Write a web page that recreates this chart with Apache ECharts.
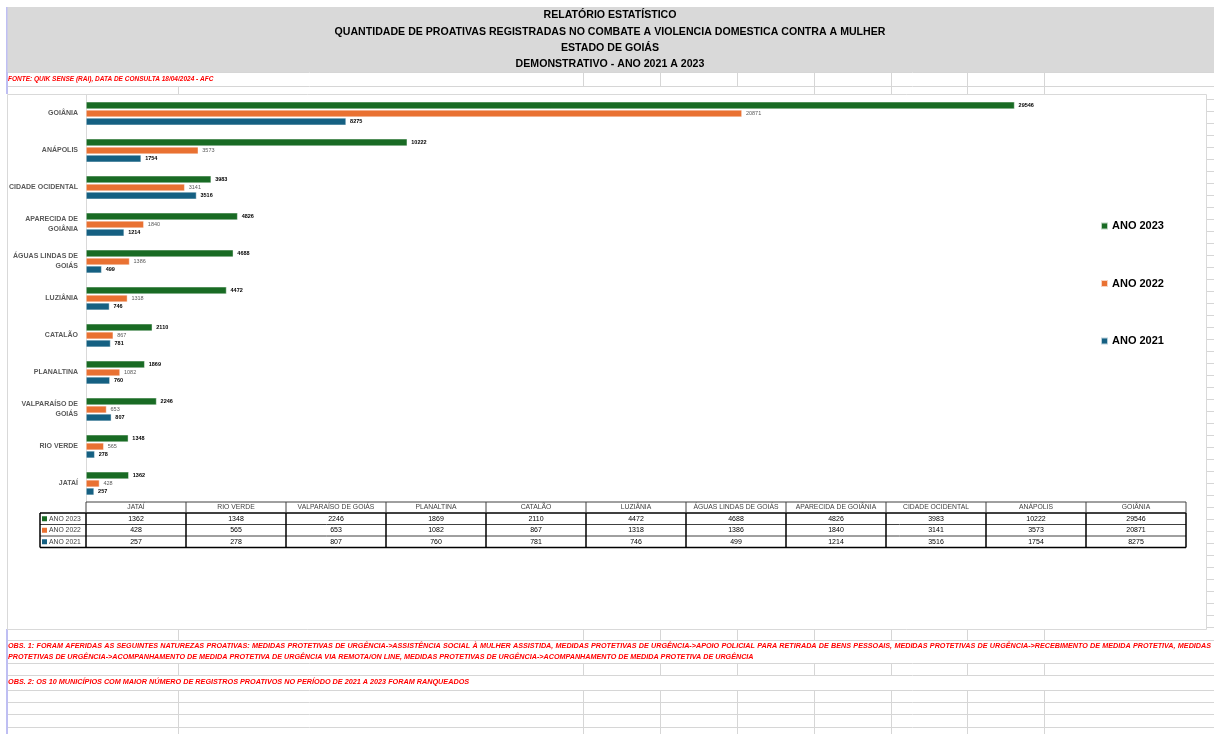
<!DOCTYPE html>
<html>
<head>
<meta charset="utf-8">
<script src="https://cdn.jsdelivr.net/npm/echarts/dist/echarts.min.js"></script>
<style>
  html, body { margin: 0; padding: 0; background: #fff; }
  #main { width: 1214px; height: 734px; }
</style>
</head>
<body>
<div id="main"></div>
<script>
// dados
const cities = ['JATAÍ', 'RIO VERDE', 'VALPARAÍSO DE GOIÁS', 'PLANALTINA', 'CATALÃO', 'LUZIÂNIA',
  'ÁGUAS LINDAS DE GOIÁS', 'APARECIDA DE GOIÂNIA', 'CIDADE OCIDENTAL', 'ANÁPOLIS', 'GOIÂNIA'];
const years = ['ANO 2023', 'ANO 2022', 'ANO 2021'];
const ano2023 = [1362, 1348, 2246, 1869, 2110, 4472, 4688, 4826, 3983, 10222, 29546];
const ano2022 = [428, 565, 653, 1082, 867, 1318, 1386, 1840, 3141, 3573, 20871];
const ano2021 = [257, 278, 807, 760, 781, 746, 499, 1214, 3516, 1754, 8275];

const titleLines = [
  'RELATÓRIO ESTATÍSTICO',
  'QUANTIDADE DE PROATIVAS REGISTRADAS NO COMBATE A VIOLENCIA DOMESTICA CONTRA A MULHER',
  'ESTADO DE GOIÁS',
  'DEMONSTRATIVO - ANO 2021 A 2023'
];
const fonte = 'FONTE: QUIK SENSE (RAI), DATA DE CONSULTA 18/04/2024 - AFC';
const obs1a = 'OBS. 1: FORAM AFERIDAS AS SEGUINTES NATUREZAS PROATIVAS:  MEDIDAS PROTETIVAS DE URGÊNCIA->ASSISTÊNCIA SOCIAL À MULHER ASSISTIDA, MEDIDAS PROTETIVAS DE URGÊNCIA->APOIO POLICIAL PARA RETIRADA DE BENS PESSOAIS, MEDIDAS PROTETIVAS DE URGÊNCIA->RECEBIMENTO DE MEDIDA PROTETIVA, MEDIDAS';
const obs1b = 'PROTETIVAS DE URGÊNCIA->ACOMPANHAMENTO DE MEDIDA PROTETIVA DE URGÊNCIA VIA REMOTA/ON LINE, MEDIDAS PROTETIVAS DE URGÊNCIA->ACOMPANHAMENTO DE MEDIDA PROTETIVA DE URGÊNCIA';
const obs2 = 'OBS. 2: OS 10 MUNICÍPIOS COM MAIOR NÚMERO DE REGISTROS PROATIVOS NO PERÍODO DE 2021 A 2023 FORAM RANQUEADOS';

const colors = ['#196B24', '#E97132', '#156082'];
const FONT = '"Liberation Sans", Arial, sans-serif';

// area do grafico (mesma largura da tabela)
const GL = 86, GW = 1100, GT = 95, GH = 407;
const XMAX = 35000;

const gfx = [];
const gridC = '#d6d6d6';
function line(x1, y1, x2, y2, color, w, z) {
  gfx.push({ type: 'line', z: z || 0, shape: { x1: x1, y1: y1, x2: x2, y2: y2 },
    style: { stroke: color || gridC, lineWidth: w || 1 } });
}
function text(x, y, str, st, z) {
  gfx.push({ type: 'text', z: z || 5, x: x, y: y,
    style: Object.assign({ text: str, fontFamily: FONT, verticalAlign: 'middle' }, st) });
}

// grade da planilha
line(7, 7, 7, 94, '#7f7fe6', 1);
line(7, 629, 7, 734, '#7f7fe6', 1);
gfx.push({ type: 'rect', z: 0, shape: { x: 7.5, y: 7, width: 1207, height: 65 }, style: { fill: '#d9d9d9' } });
titleLines.forEach(function (t, i) {
  text(610, 15.5 + i * 16.3, t, { fontSize: 10.6, fontWeight: 'bold', fill: '#000', align: 'center' });
});
[72.5, 86.5, 640.5, 663.5, 675.5, 690.5, 702.5, 714.5, 727.5].forEach(function (y) { line(8, y, 1214, y); });
const cols = [178.5, 583.5, 660.5, 737.5, 814.5, 891.5, 967.5, 1044.5];
cols.slice(1).forEach(function (x) { line(x, 72, x, 86); });
[178.5, 814.5, 891.5, 967.5, 1044.5].forEach(function (x) { line(x, 86, x, 94); });
cols.forEach(function (x) { line(x, 629, x, 640); line(x, 663, x, 675); line(x, 690, x, 734); });
for (let y = 99.5; y < 629; y += 12) line(1207, y, 1214, y);

// caixa do grafico
gfx.push({ type: 'rect', z: 0, shape: { x: 7.5, y: 94.5, width: 1199, height: 535 },
  style: { fill: '#fff', stroke: '#d9d9d9', lineWidth: 1 } });

text(8, 79.5, fonte, { fontSize: 6.5, fontWeight: 'bold', fontStyle: 'italic', fill: '#ff0000' });

// OBS 1 justificado
const obsSize = 7.2;
const cv = document.createElement('canvas').getContext('2d');
cv.font = 'italic bold ' + obsSize + 'px ' + FONT;
(function () {
  const words = obs1a.split(/ +/);
  const widths = words.map(function (w) { return cv.measureText(w).width; });
  const total = widths.reduce(function (a, b) { return a + b; }, 0);
  const gap = (1211 - 8 - total) / (words.length - 1);
  let x = 8;
  words.forEach(function (w, i) {
    text(x, 646, w, { fontSize: obsSize, fontWeight: 'bold', fontStyle: 'italic', fill: '#ff0000' });
    x += widths[i] + gap;
  });
})();
text(8, 657.5, obs1b, { fontSize: obsSize, fontWeight: 'bold', fontStyle: 'italic', fill: '#ff0000' });
text(8, 682, obs2, { fontSize: 7.25, fontWeight: 'bold', fontStyle: 'italic', fill: '#ff0000' });

// tabela de dados
const colW = GW / cities.length;
const rowY = [502, 513, 524.5, 536, 547.5];
const series = [ano2023, ano2022, ano2021];
line(GL, rowY[0], GL + GW, rowY[0], '#404040', 1, 6);
line(40, rowY[1], GL + GW, rowY[1], '#000', 1.5, 6);
line(40, rowY[2], GL + GW, rowY[2], '#404040', 1, 6);
line(40, rowY[3], GL + GW, rowY[3], '#404040', 1, 6);
line(40, rowY[4], GL + GW, rowY[4], '#000', 1.5, 6);
line(40, rowY[1], 40, rowY[4], '#000', 1.5, 6);
for (let c = 0; c <= cities.length; c++) {
  const x = GL + c * colW;
  line(x, rowY[0], x, rowY[1], '#404040', 1, 6);
  line(x, rowY[1], x, rowY[4], '#000', 1.5, 6);
}
cities.forEach(function (name, c) {
  const cx = GL + (c + 0.5) * colW;
  text(cx, (rowY[0] + rowY[1]) / 2, name, { fontSize: 6.8, fill: '#404040', align: 'center' });
  series.forEach(function (arr, r) {
    text(cx, (rowY[r + 1] + rowY[r + 2]) / 2, String(arr[c]), { fontSize: 7, fill: '#000', align: 'center' });
  });
});
years.forEach(function (y, r) {
  const cy = (rowY[r + 1] + rowY[r + 2]) / 2;
  gfx.push({ type: 'rect', z: 6, shape: { x: 42, y: cy - 2.5, width: 5, height: 5 }, style: { fill: colors[r] } });
  text(49, cy, y, { fontSize: 6.8, fill: '#404040' });
});

const chart = echarts.init(document.getElementById('main'));

function barSeries(name, data, idx) {
  const light = idx === 1;
  return {
    name: name,
    type: 'bar',
    data: data,
    barWidth: 7.3,
    barGap: '10%',
    itemStyle: { color: colors[idx], borderColor: 'rgba(255,255,255,0.7)', borderWidth: 0.6 },
    label: {
      show: true,
      position: 'right',
      distance: 4,
      fontSize: 5.5,
      fontFamily: FONT,
      fontWeight: light ? 'normal' : 'bold',
      color: light ? '#595959' : '#000'
    }
  };
}

chart.setOption({
  backgroundColor: '#fff',
  animation: false,
  graphic: gfx,
  legend: {
    orient: 'vertical',
    left: 1100,
    top: 219,
    padding: 0,
    itemWidth: 7,
    itemHeight: 7,
    itemGap: 43.5,
    icon: 'rect',
    data: years,
    textStyle: { fontSize: 11, fontWeight: 'bold', color: '#000', fontFamily: FONT, lineHeight: 14, padding: [0, 0, 0, -1] }
  },
  grid: { left: GL, top: GT, width: GW, height: GH, containLabel: false },
  xAxis: {
    type: 'value',
    min: 0,
    max: XMAX,
    show: false
  },
  yAxis: {
    type: 'category',
    data: cities,
    axisLine: { show: true, lineStyle: { color: '#d9d9d9', width: 1 } },
    axisTick: { show: false },
    axisLabel: {
      margin: 8,
      fontSize: 7,
      fontWeight: 'bold',
      color: '#595959',
      fontFamily: FONT,
      lineHeight: 10,
      align: 'right',
      formatter: function (v) { return v.replace(/ DE (GOI)/, ' DE\n$1'); }
    },
    splitLine: { show: false }
  },
  series: [
    barSeries(years[0], ano2023, 0),
    barSeries(years[1], ano2022, 1),
    barSeries(years[2], ano2021, 2)
  ]
});
</script>
</body>
</html>
